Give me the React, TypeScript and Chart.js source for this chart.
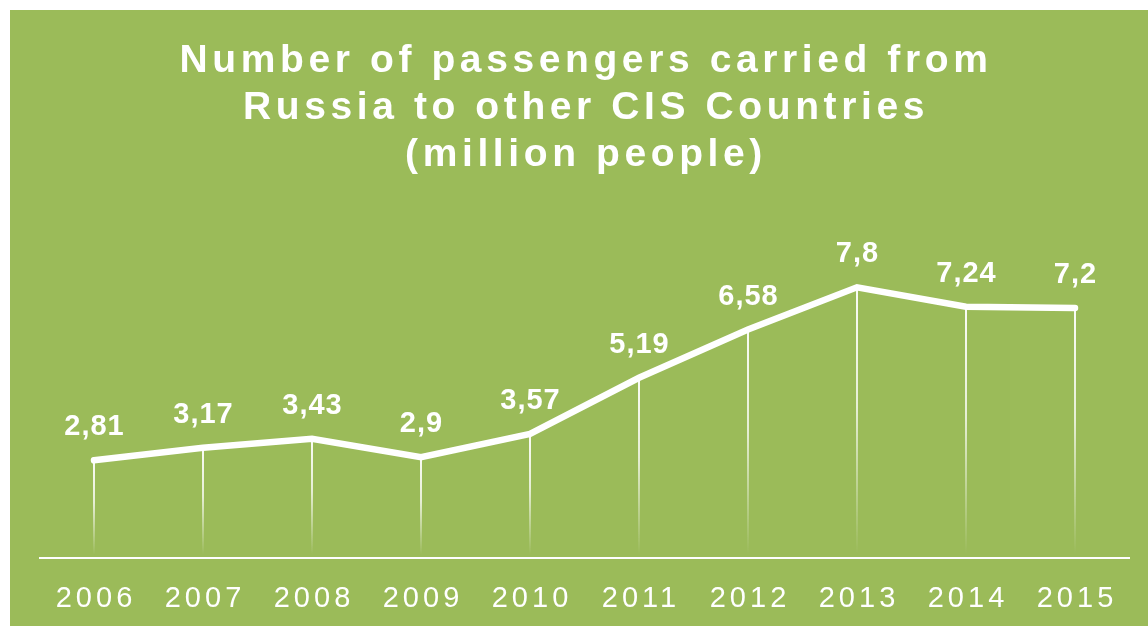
import React, { useEffect, useRef } from "react";
import { Chart, registerables } from "chart.js";

Chart.register(...registerables);

const years = ["2006", "2007", "2008", "2009", "2010", "2011", "2012", "2013", "2014", "2015"];
const passengers = [2.81, 3.17, 3.43, 2.9, 3.57, 5.19, 6.58, 7.8, 7.24, 7.2];
const titleLines = ["Number of passengers carried from", "Russia to other CIS Countries", "(million people)"];

const GREEN = "#9BBB59";
const FONT = '"Liberation Sans", Arial, sans-serif';

const dropLinesPlugin = {
  id: "dropLines",
  beforeDatasetsDraw(chart: any) {
    const ctx = chart.ctx;
    const meta = chart.getDatasetMeta(0);
    const bottom = chart.chartArea.bottom - 3;
    ctx.save();
    meta.data.forEach((pt: any) => {
      const g = ctx.createLinearGradient(0, pt.y, 0, bottom);
      g.addColorStop(0, "rgba(255,255,255,0.95)");
      g.addColorStop(0.45, "rgba(255,255,255,0.75)");
      g.addColorStop(1, "rgba(255,255,255,0)");
      ctx.strokeStyle = g;
      ctx.lineWidth = 2;
      ctx.beginPath();
      ctx.moveTo(pt.x, pt.y);
      ctx.lineTo(pt.x, bottom);
      ctx.stroke();
    });
    ctx.restore();
  },
};

const valueLabelsPlugin = {
  id: "valueLabels",
  afterDatasetsDraw(chart: any) {
    const ctx = chart.ctx;
    const meta = chart.getDatasetMeta(0);
    const data = chart.data.datasets[0].data as number[];
    ctx.save();
    (ctx as any).letterSpacing = "1px";
    ctx.font = `bold 29px ${FONT}`;
    ctx.fillStyle = "#ffffff";
    ctx.textAlign = "center";
    ctx.textBaseline = "alphabetic";
    meta.data.forEach((pt: any, i: number) => {
      const txt = String(data[i]).replace(".", ",");
      ctx.fillText(txt, pt.x + 0.5, pt.y - 25);
    });
    ctx.restore();
  },
};

const spacingPlugin = {
  id: "tickSpacing",
  beforeDraw(chart: any) {
    (chart.ctx as any).letterSpacing = "4px";
  },
};

export default function App() {
  const canvasRef = useRef<HTMLCanvasElement | null>(null);

  useEffect(() => {
    if (!canvasRef.current) return;
    const chart = new Chart(canvasRef.current, {
      type: "line",
      data: {
        labels: years,
        datasets: [
          {
            data: passengers,
            borderColor: "#ffffff",
            borderWidth: 6.5,
            borderCapStyle: "round",
            borderJoinStyle: "miter",
            pointRadius: 0,
            pointHoverRadius: 0,
            tension: 0,
            fill: false,
            clip: false as any,
          },
        ],
      },
      options: {
        animation: false,
        responsive: false,
        maintainAspectRatio: false,
        layout: { padding: { left: 29.5, right: 18.5, top: 201, bottom: 12.7 } },
        plugins: {
          legend: { display: false },
          title: { display: false },
          tooltip: { enabled: false },
        },
        scales: {
          x: {
            offset: true,
            grid: { display: false, drawTicks: false },
            border: { display: true, color: "#ffffff", width: 2 },
            ticks: {
              color: "#ffffff",
              font: { family: FONT, size: 29 },
              padding: 23.6,
              labelOffset: 2,
              maxRotation: 0,
              autoSkip: false,
            },
            afterFit(scale: any) {
              scale.height = 55.6;
            },
          },
          y: {
            display: false,
            min: 0,
            max: 10,
          },
        },
      },
      plugins: [spacingPlugin, dropLinesPlugin, valueLabelsPlugin],
    });
    return () => chart.destroy();
  }, []);

  return (
    <div
      style={{
        position: "absolute",
        left: 10,
        top: 10,
        width: 1138,
        height: 616,
        background: GREEN,
        overflow: "hidden",
      }}
    >
      <canvas
        ref={canvasRef}
        width={1138}
        height={616}
        style={{ position: "absolute", left: 0, top: 0, width: 1138, height: 616 }}
      />
      <div
        style={{
          position: "absolute",
          left: 0,
          top: 25,
          width: 1138,
          boxSizing: "border-box",
          paddingLeft: 14,
          textAlign: "center",
          color: "#ffffff",
          fontFamily: FONT,
          fontWeight: "bold",
          fontSize: 39,
          lineHeight: "47px",
          letterSpacing: "4.6px",
        }}
      >
        {titleLines.map((l) => (
          <div key={l}>{l}</div>
        ))}
      </div>
    </div>
  );
}
